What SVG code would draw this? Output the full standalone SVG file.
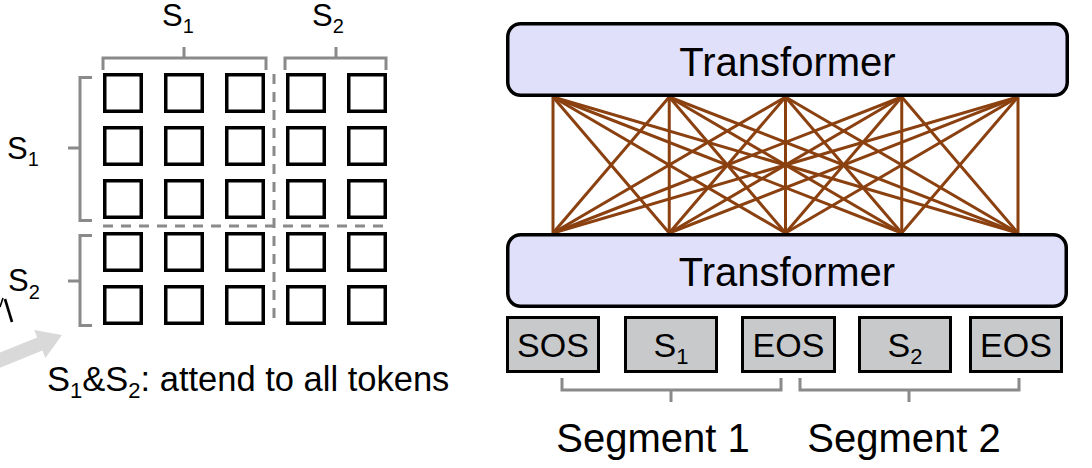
<svg xmlns="http://www.w3.org/2000/svg" width="1092" height="468" viewBox="0 0 1092 468">
<style>
text{font-family:"Liberation Sans",Arial,Helvetica,sans-serif;fill:#000}
.cell{fill:#fff;stroke:#000;stroke-width:3.5}
.br{fill:none;stroke:#8a8a8a;stroke-width:3}
.dash{fill:none;stroke:#8a8a8a;stroke-width:3;stroke-dasharray:10 8}
.tf{fill:#e0e0fa;stroke:#000;stroke-width:3.5}
.tok{fill:#c8c9cb;stroke:#000;stroke-width:3}
.conn line{stroke:#8b4010;stroke-width:3}
.lbl{font-size:31px}
.sub{font-size:20px}
.tt{font-size:40px}
.tk{font-size:34px}
</style>
<defs>
<rect id="sq" class="cell" x="1.75" y="1.75" width="36.5" height="36.5"/>
</defs>

<g id="matrix">
<use href="#sq" x="103" y="73"/><use href="#sq" x="164" y="73"/><use href="#sq" x="225" y="73"/><use href="#sq" x="286" y="73"/><use href="#sq" x="347" y="73"/>
<use href="#sq" x="103" y="126"/><use href="#sq" x="164" y="126"/><use href="#sq" x="225" y="126"/><use href="#sq" x="286" y="126"/><use href="#sq" x="347" y="126"/>
<use href="#sq" x="103" y="179"/><use href="#sq" x="164" y="179"/><use href="#sq" x="225" y="179"/><use href="#sq" x="286" y="179"/><use href="#sq" x="347" y="179"/>
<use href="#sq" x="103" y="232"/><use href="#sq" x="164" y="232"/><use href="#sq" x="225" y="232"/><use href="#sq" x="286" y="232"/><use href="#sq" x="347" y="232"/>
<use href="#sq" x="103" y="285"/><use href="#sq" x="164" y="285"/><use href="#sq" x="225" y="285"/><use href="#sq" x="286" y="285"/><use href="#sq" x="347" y="285"/>
<line class="dash" x1="103" y1="226" x2="388" y2="226"/>
<line class="dash" x1="274" y1="74" x2="274" y2="325"/>
</g>

<g id="brackets-left">
<path class="br" d="M103,70 V58 H266 V70 M184,58 V47"/>
<path class="br" d="M285,70 V58 H386 V70 M336,58 V47"/>
<path class="br" d="M92,77.5 H80 V220.5 H92 M80,148 H68"/>
<path class="br" d="M92,235.5 H80 V325.5 H92 M80,281 H68"/>
</g>

<g id="labels-left">
<text class="lbl" x="162" y="26">S<tspan class="sub" dy="7">1</tspan></text>
<text class="lbl" x="312" y="26">S<tspan class="sub" dy="7">2</tspan></text>
<text class="lbl" x="7" y="159">S<tspan class="sub" dy="7">1</tspan></text>
<text class="lbl" x="8" y="291">S<tspan class="sub" dy="8">2</tspan></text>
<text x="47" y="391" style="font-size:34.5px">S<tspan style="font-size:22px" dy="7">1</tspan><tspan dy="-7">&amp;S</tspan><tspan style="font-size:22px" dy="7">2</tspan><tspan dy="-7">: attend to all tokens</tspan></text>
</g>

<g id="arrow">
<polygon fill="#d9d9d9" points="-18.4,360 37.2,337.5 34.2,330.1 62,335 45.4,357.9 42.4,350.5 -13.2,373"/>
<line x1="0" y1="307" x2="3" y2="298" stroke="#000" stroke-width="1.6"/>
<line x1="5" y1="299" x2="12" y2="322" stroke="#000" stroke-width="2.6"/>
</g>

<g id="connectors" class="conn">
<line x1="553" y1="97" x2="553" y2="233"/><line x1="553" y1="97" x2="669.25" y2="233"/><line x1="553" y1="97" x2="785.5" y2="233"/><line x1="553" y1="97" x2="901.75" y2="233"/><line x1="553" y1="97" x2="1018" y2="233"/>
<line x1="669.25" y1="97" x2="553" y2="233"/><line x1="669.25" y1="97" x2="669.25" y2="233"/><line x1="669.25" y1="97" x2="785.5" y2="233"/><line x1="669.25" y1="97" x2="901.75" y2="233"/><line x1="669.25" y1="97" x2="1018" y2="233"/>
<line x1="785.5" y1="97" x2="553" y2="233"/><line x1="785.5" y1="97" x2="669.25" y2="233"/><line x1="785.5" y1="97" x2="785.5" y2="233"/><line x1="785.5" y1="97" x2="901.75" y2="233"/><line x1="785.5" y1="97" x2="1018" y2="233"/>
<line x1="901.75" y1="97" x2="553" y2="233"/><line x1="901.75" y1="97" x2="669.25" y2="233"/><line x1="901.75" y1="97" x2="785.5" y2="233"/><line x1="901.75" y1="97" x2="901.75" y2="233"/><line x1="901.75" y1="97" x2="1018" y2="233"/>
<line x1="1018" y1="97" x2="553" y2="233"/><line x1="1018" y1="97" x2="669.25" y2="233"/><line x1="1018" y1="97" x2="785.5" y2="233"/><line x1="1018" y1="97" x2="901.75" y2="233"/><line x1="1018" y1="97" x2="1018" y2="233"/>
</g>

<g id="transformer-top">
<rect class="tf" x="507.75" y="23.75" width="559.5" height="71.5" rx="13"/>
<text class="tt" x="787.5" y="76" text-anchor="middle">Transformer</text>
</g>
<g id="transformer-bottom">
<rect class="tf" x="507.75" y="234.75" width="558.5" height="71.5" rx="13"/>
<text class="tt" x="787" y="286" text-anchor="middle">Transformer</text>
</g>

<g id="tok-sos"><rect class="tok" x="507.5" y="317.5" width="91" height="54"/><text class="tk" x="553" y="357" text-anchor="middle">SOS</text></g>
<g id="tok-s1"><rect class="tok" x="625.5" y="317.5" width="91" height="54"/><text class="tk" x="671" y="357" text-anchor="middle">S<tspan style="font-size:22px" dy="7">1</tspan></text></g>
<g id="tok-eos1"><rect class="tok" x="742.5" y="317.5" width="92" height="54"/><text class="tk" x="788.5" y="357" text-anchor="middle">EOS</text></g>
<g id="tok-s2"><rect class="tok" x="859.5" y="317.5" width="91" height="54"/><text class="tk" x="905" y="357" text-anchor="middle">S<tspan style="font-size:22px" dy="7">2</tspan></text></g>
<g id="tok-eos2"><rect class="tok" x="970.5" y="317.5" width="91" height="54"/><text class="tk" x="1016" y="357" text-anchor="middle">EOS</text></g>

<g id="segments">
<path class="br" d="M562,378 V390 H781 V378 M671,390 V402"/>
<path class="br" d="M800,378 V390 H1019 V378 M909,390 V402"/>
<text class="tt" x="653" y="452" text-anchor="middle">Segment 1</text>
<text class="tt" x="904" y="452" text-anchor="middle">Segment 2</text>
</g>
</svg>
